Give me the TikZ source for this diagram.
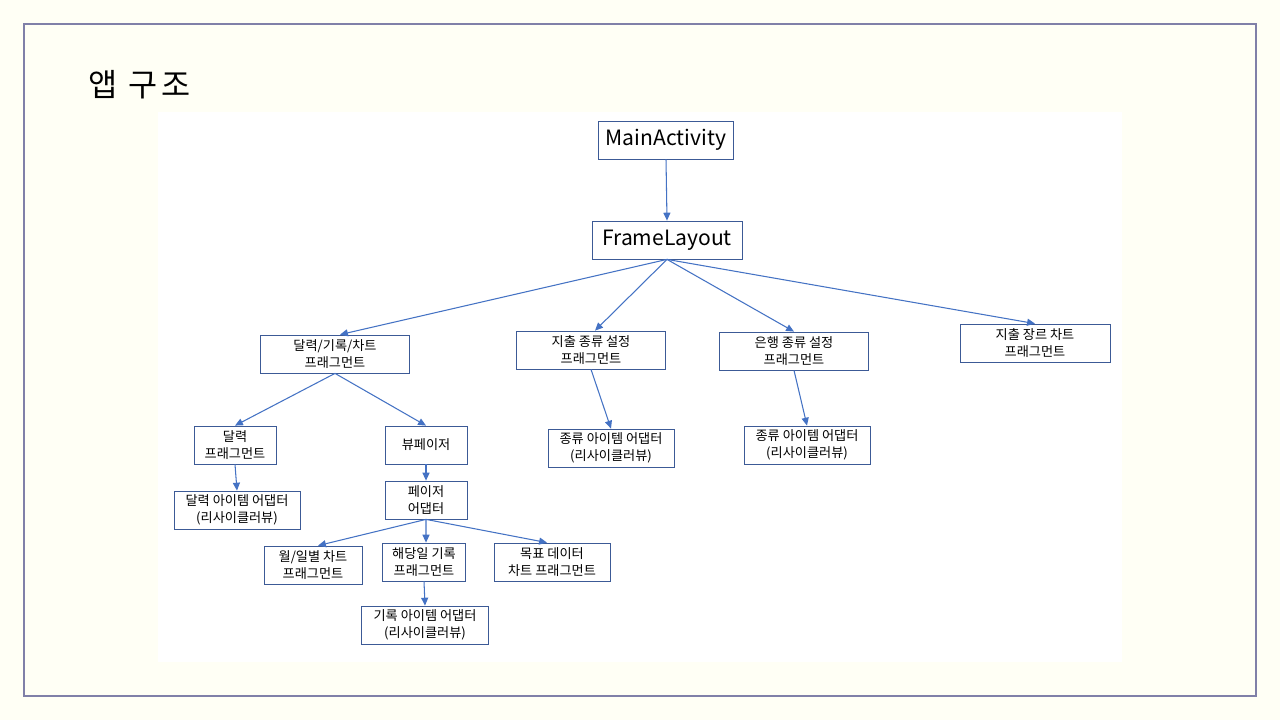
\documentclass[tikz,border=0pt]{standalone}
\usepackage{fontspec}
\setmainfont{Noto Sans CJK KR}
\usepackage{tikz}
\usetikzlibrary{arrows.meta, positioning}
\usepackage{xcolor}

\definecolor{slidebg}{RGB}{255,255,245}
\definecolor{slideframe}{RGB}{128,128,168}
\definecolor{boxline}{RGB}{60,90,150}
\definecolor{linkblue}{RGB}{68,114,196}

\tikzset{
  box/.style={draw=boxline, line width=0.45pt, fill=white, inner sep=0pt,
    minimum width=#1, minimum height=0.76cm, align=center,
    font=\fontsize{7.5}{9.5}\selectfont},
  bigbox/.style={box=#1, font=\fontsize{12}{14}\selectfont},
  link/.style={draw=linkblue, line width=0.6pt, -{Triangle[length=4.5pt,width=4pt]}}
}

\begin{document}
\begin{tikzpicture}[x=0.02cm, y=-0.02cm]
  \useasboundingbox (0,0) rectangle (1280,720);
  % slide background and frame
  \fill[slidebg] (0,0) rectangle (1280,720);
  \draw[slideframe, line width=1.2pt] (24,24) rectangle (1256,696);
  \fill[white] (158,112) rectangle (1122,662);
  \node[anchor=west, font=\fontsize{18}{20}\selectfont\addfontfeature{LetterSpace=12}] (title) at (82,85) {앱 구조};

  % top levels
  \node[bigbox=2.7cm] (main) at (666,140) {MainActivity};
  \node[bigbox=3.0cm] (frame) at (667,240) {FrameLayout};

  % fragments
  \node[box=2.98cm] (calfrag) at (335,354) {달력/기록/차트\\프래그먼트};
  \node[box=2.98cm] (spendtype) at (591,350) {지출 종류 설정\\프래그먼트};
  \node[box=2.98cm] (banktype) at (794,351) {은행 종류 설정\\프래그먼트};
  \node[box=3.0cm] (genrechart) at (1035,343) {지출 장르 차트\\프래그먼트};

  % second row
  \node[box=1.64cm] (cal) at (235,445) {달력\\프래그먼트};
  \node[box=1.64cm] (pager) at (426,445) {뷰페이저};
  \node[box=2.52cm] (spendadapter) at (611,448) {종류 아이템 어댑터\\(리사이클러뷰)};
  \node[box=2.52cm] (bankadapter) at (807,445) {종류 아이템 어댑터\\(리사이클러뷰)};

  % third row
  \node[box=2.52cm] (caladapter) at (237,510) {달력 아이템 어댑터\\(리사이클러뷰)};
  \node[box=1.64cm] (pageradapter) at (426,500) {페이저\\어댑터};

  % pager pages
  \node[box=1.96cm] (daychart) at (313,565) {월/일별 차트\\프래그먼트};
  \node[box=1.66cm] (dayrecord) at (424,562) {해당일 기록\\프래그먼트};
  \node[box=2.32cm] (goalchart) at (552,562) {목표 데이터\\차트 프래그먼트};
  \node[box=2.54cm] (recordadapter) at (425,625) {기록 아이템 어댑터\\(리사이클러뷰)};

  % connectors
  \draw[link] (main.south) -- (frame.north);
  \draw[link] (frame.south) -- ([xshift=0.1cm]calfrag.north);
  \draw[link] (frame.south) -- ([xshift=0.08cm]spendtype.north);
  \draw[link] (frame.south) -- (banktype.north);
  \draw[link] (frame.south) -- (genrechart.north);
  \draw[link] (calfrag.south) -- (cal.north);
  \draw[link] (calfrag.south) -- (pager.north);
  \draw[link] (spendtype.south) -- (spendadapter.north);
  \draw[link] (banktype.south) -- (bankadapter.north);
  \draw[link] (cal.south) -- (caladapter.north);
  \draw[link] (pager.south) -- (pageradapter.north);
  \draw[link] (pageradapter.south) -- ([xshift=0.1cm]daychart.north);
  \draw[link] (pageradapter.south) -- ([xshift=0.04cm]dayrecord.north);
  \draw[link] (pageradapter.south) -- ([xshift=-0.1cm]goalchart.north);
  \draw[link] (dayrecord.south) -- (recordadapter.north);
\end{tikzpicture}
\end{document}
